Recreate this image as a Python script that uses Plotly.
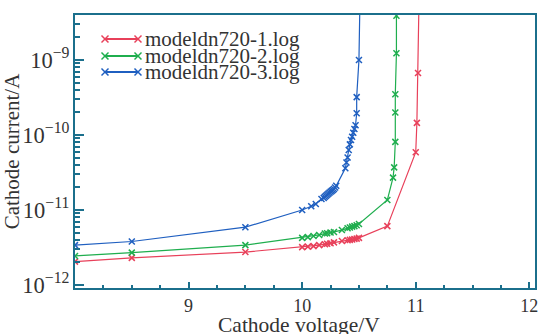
import plotly.graph_objects as go

# Series 1 (red)
v1 = [8.0, 8.5, 9.5, 10.0, 10.05, 10.1, 10.15, 10.2, 10.22, 10.25, 10.28, 10.35, 10.4, 10.42, 10.44, 10.46, 10.48, 10.5, 10.75, 11.0, 11.01, 11.02, 11.03]
i1 = [2.05e-12, 2.3e-12, 2.75e-12, 3.2e-12, 3.25e-12, 3.3e-12, 3.4e-12, 3.5e-12, 3.55e-12, 3.6e-12, 3.7e-12, 3.85e-12, 3.95e-12, 4.0e-12, 4.05e-12, 4.1e-12, 4.15e-12, 4.25e-12, 6.1e-12, 5.9e-11, 1.45e-10, 6.7e-10, 8e-9]

# Series 2 (green)
v2 = [8.0, 8.5, 9.5, 10.0, 10.05, 10.1, 10.15, 10.2, 10.22, 10.25, 10.28, 10.35, 10.4, 10.42, 10.44, 10.46, 10.48, 10.5, 10.75, 10.8, 10.81, 10.82, 10.82, 10.82, 10.83, 10.83]
i2 = [2.44e-12, 2.7e-12, 3.4e-12, 4.25e-12, 4.35e-12, 4.5e-12, 4.65e-12, 4.85e-12, 4.9e-12, 5.0e-12, 5.1e-12, 5.4e-12, 5.7e-12, 5.85e-12, 6.0e-12, 6.1e-12, 6.25e-12, 6.5e-12, 1.36e-11, 2.7e-11, 3.7e-11, 8.1e-11, 2.0e-10, 3.5e-10, 1.23e-9, 3.9e-9]

# Series 3 (blue)
v3 = [8.0, 8.5, 9.5, 10.0, 10.08, 10.12, 10.17, 10.19, 10.2, 10.21, 10.22, 10.23, 10.24, 10.25, 10.26, 10.27, 10.28, 10.29, 10.3, 10.38, 10.39, 10.4, 10.41, 10.42, 10.43, 10.44, 10.45, 10.46, 10.47, 10.48, 10.48, 10.5, 10.51]
i3 = [3.4e-12, 3.8e-12, 5.9e-12, 1.0e-11, 1.12e-11, 1.2e-11, 1.4e-11, 1.45e-11, 1.5e-11, 1.55e-11, 1.6e-11, 1.65e-11, 1.7e-11, 1.75e-11, 1.8e-11, 1.85e-11, 1.9e-11, 2.0e-11, 2.1e-11, 3.6e-11, 4.3e-11, 5.0e-11, 6.3e-11, 7.5e-11, 8.6e-11, 9.5e-11, 1.07e-10, 1.2e-10, 1.35e-10, 1.95e-10, 3.2e-10, 1.0e-9, 8e-9]

names = ["modeldn720-1.log", "modeldn720-2.log", "modeldn720-3.log"]
colors = ["#e8405a", "#1fae4e", "#1f5fc0"]
xticks = [9, 10, 11, 12]

W, H = 540, 334
ML, MR, MT, MB = 75, 5, 15, 46
PW, PH = W - ML - MR, H - MT - MB

fig = go.Figure()
for v, i, n, c in zip([v1, v2, v3], [i1, i2, i3], names, colors):
    fig.add_trace(go.Scatter(
        x=v, y=i, name=n, mode="lines+markers", showlegend=False,
        line=dict(color=c, width=1.2),
        marker=dict(symbol="x-thin", size=6, line=dict(color=c, width=1.5), color=c),
    ))

# manual compact legend (layout decoration in paper coordinates)
font = "Liberation Serif"
lx0, lx1, ltx = 105, 138, 143
rows = [39, 56, 72]
ms = 3.5
def px(x):
    return (x - ML) / PW
def py(y):
    return (H - MB - y) / PH
for n, c, yy in zip(names, colors, rows):
    fig.add_shape(type="line", xref="paper", yref="paper",
                  x0=px(lx0), x1=px(lx1), y0=py(yy), y1=py(yy),
                  line=dict(color=c, width=2))
    for xx in (lx0, lx1):
        fig.add_shape(type="line", xref="paper", yref="paper",
                      x0=px(xx - ms), x1=px(xx + ms), y0=py(yy - ms), y1=py(yy + ms),
                      line=dict(color=c, width=1.5))
        fig.add_shape(type="line", xref="paper", yref="paper",
                      x0=px(xx - ms), x1=px(xx + ms), y0=py(yy + ms), y1=py(yy - ms),
                      line=dict(color=c, width=1.5))
    fig.add_annotation(xref="paper", yref="paper", x=px(ltx), y=py(yy),
                       xanchor="left", yanchor="middle", showarrow=False,
                       text=n, font=dict(family=font, size=21, color="#333"))

# x-axis title as annotation (slightly left of plot centre, as in the reference)
fig.add_annotation(xref="paper", yref="paper", x=px(299), y=py(325),
                   xanchor="center", yanchor="middle", showarrow=False,
                   text="Cathode voltage/V", font=dict(family=font, size=21.5, color="#333"))

axcol = "#1b6f8c"
fig.update_layout(
    width=W, height=H,
    margin=dict(l=ML, r=MR, t=MT, b=MB),
    paper_bgcolor="white", plot_bgcolor="white",
    font=dict(family=font, size=18, color="#333"),
    showlegend=False,
    xaxis=dict(
        range=[8.0, 12.05], tickvals=xticks, ticktext=[str(t) for t in xticks],
        showgrid=False, zeroline=False, automargin=False,
        showline=True, linecolor=axcol, linewidth=2, mirror=True,
        ticks="inside", ticklen=6, tickwidth=2, tickcolor=axcol,
        minor=dict(dtick=0.25, tick0=8, ticks="inside", ticklen=3, tickwidth=1.5, tickcolor=axcol),
        tickfont=dict(size=18, family=font),
    ),
    yaxis=dict(
        type="log", range=[-12.04, -8.4], dtick=1, exponentformat="power",
        showgrid=False, zeroline=False, automargin=False,
        showline=True, linecolor=axcol, linewidth=2, mirror=True,
        ticks="inside", ticklen=9, tickwidth=2, tickcolor=axcol,
        minor=dict(dtick="D1", ticks="inside", ticklen=5, tickwidth=1.5, tickcolor=axcol),
        title=dict(text="Cathode current/A", standoff=6, font=dict(size=21)),
        tickfont=dict(size=18, family=font),
    ),
)
fig.write_html("out.html", config={"displayModeBar": False},
               post_script="document.body.style.margin='0';document.body.style.overflow='hidden';")
